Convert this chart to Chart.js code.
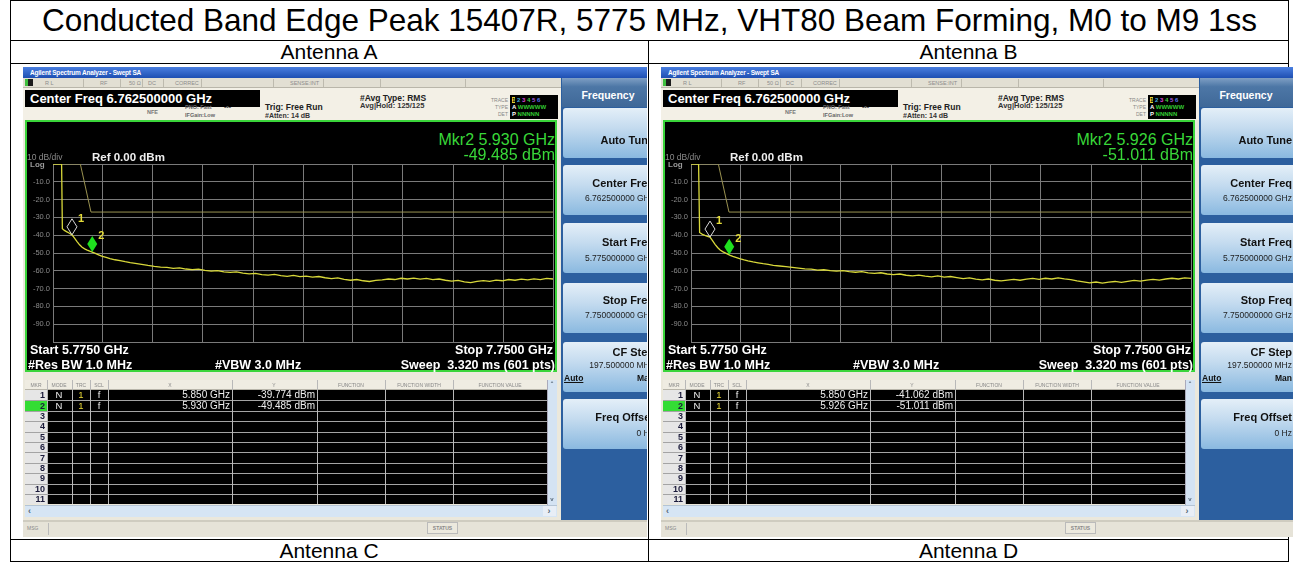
<!DOCTYPE html>
<html>
<head>
<meta charset="utf-8">
<script src="https://cdn.jsdelivr.net/npm/chart.js@4.4.0/dist/chart.umd.min.js"></script>
<style>
  * { box-sizing: border-box; margin: 0; padding: 0; }
  body { width: 1293px; height: 571px; background: #fff; overflow: hidden; position: relative;
         font-family: "Liberation Sans", Arial, sans-serif; }
  .ln { position: absolute; background: #000; }
  .cap { position: absolute; text-align: center; white-space: nowrap; color: #000; }
  .sa { position: absolute; top: 67px; height: 470px; overflow: hidden; background: #ebe8dc; }
  .sa > * { position: absolute; white-space: nowrap; }
</style>
</head>
<body>

<div class="ln" style="left:10px;top:0;width:1279px;height:1px"></div>
<div class="ln" style="left:10px;top:40px;width:1279px;height:1px"></div>
<div class="ln" style="left:10px;top:63px;width:1279px;height:1px"></div>
<div class="ln" style="left:10px;top:539px;width:1279px;height:1px"></div>
<div class="ln" style="left:10px;top:561px;width:1279px;height:1px"></div>
<div class="ln" style="left:10px;top:0;width:1px;height:562px"></div>
<div class="ln" style="left:648px;top:40px;width:1px;height:522px"></div>
<div class="ln" style="left:1288px;top:0;width:1px;height:562px"></div>

<div class="cap" style="left:10px;top:1px;width:1279px;height:39px;line-height:39px;font-size:31.5px">Conducted Band Edge Peak 15407R, 5775 MHz, VHT80 Beam Forming, M0 to M9 1ss</div>
<div class="cap" style="left:10px;top:41px;width:638px;height:22px;line-height:22px;font-size:21px">Antenna A</div>
<div class="cap" style="left:649px;top:41px;width:639px;height:22px;line-height:22px;font-size:21px">Antenna B</div>
<div class="cap" style="left:10px;top:540px;width:638px;height:21px;line-height:21px;font-size:21px">Antenna C</div>
<div class="cap" style="left:649px;top:540px;width:639px;height:21px;line-height:21px;font-size:21px">Antenna D</div>

<div class="sa" id="saA" style="left:23px;width:624px"></div>
<div class="sa" id="saB" style="left:661px;width:632px"></div>

<script>
// sweep: 5.775 GHz to 7.750 GHz, 10 dB/div, ref 0 dBm
const freqGHz = [
  5.775, 5.790, 5.805, 5.809, 5.812, 5.820, 5.830, 5.840, 5.850, 5.860,
  5.870, 5.880, 5.890, 5.900, 5.910, 5.920, 5.930, 5.940, 5.955, 5.970,
  5.985, 6.000, 6.020, 6.040, 6.060, 6.080, 6.100, 6.125, 6.150, 6.175,
  6.200,
  6.225, 6.250, 6.275, 6.300, 6.325, 6.350, 6.375, 6.400, 6.425, 6.450,
  6.475, 6.500, 6.525, 6.550, 6.575, 6.600, 6.625, 6.650, 6.675, 6.700,
  6.725, 6.750, 6.775, 6.800, 6.825, 6.850, 6.875, 6.900, 6.925, 6.950,
  6.975, 7.000, 7.025, 7.050, 7.075, 7.100, 7.125, 7.150, 7.175, 7.200,
  7.225, 7.250, 7.275, 7.300, 7.325, 7.350, 7.375, 7.400, 7.425, 7.450,
  7.475, 7.500, 7.525, 7.550, 7.575, 7.600, 7.625, 7.650, 7.675, 7.700,
  7.725, 7.750
];

const traceA = [
  0, 0, 0, 0, -36.4, -37.3, -38.1, -38.9, -39.8, -41.6,
  -43.6, -45.4, -46.8, -47.7, -48.4, -49.0, -49.5, -50.1, -51.0, -51.9,
  -52.5, -53.1, -53.8, -54.3, -54.9, -55.4, -55.8, -56.4, -57.0, -57.5,
  -57.9,
  -58.1, -58.6, -58.4, -59.0, -59.3, -59.1, -59.8, -60.2, -59.9, -60.6,
  -60.9, -60.6, -61.3, -61.7, -61.4, -62.1, -62.4, -62.0, -62.7, -63.1,
  -62.6, -63.3, -63.0, -63.6, -63.2, -63.9, -64.4, -64.0, -64.8, -65.3,
  -64.9, -65.6, -66.0, -65.4, -65.1, -64.6, -64.9, -64.2, -64.6, -64.1,
  -64.7, -64.3, -65.0, -64.6, -65.3, -65.8, -65.4, -66.2, -66.6, -66.0,
  -65.5, -65.9, -65.2, -65.6, -64.9, -65.3, -64.7, -65.1, -64.5, -64.9,
  -64.3, -64.6
];

const traceB = [
  0, 0, 0, -38.4, -38.8, -39.5, -40.1, -40.6, -41.1, -43.1,
  -45.1, -46.9, -48.3, -49.2, -49.9, -50.6, -51.3, -51.9, -52.6, -53.3,
  -53.9, -54.4, -55.0, -55.5, -56.0, -56.4, -56.9, -57.3, -57.7, -58.1,
  -58.5,
  -58.9, -59.1, -59.6, -59.4, -59.9, -60.2, -59.9, -60.5, -60.8, -60.5,
  -61.2, -61.5, -61.1, -61.8, -62.1, -61.8, -62.5, -62.8, -62.4, -63.0,
  -63.4, -62.9, -63.6, -63.2, -63.8, -64.4, -64.0, -64.7, -65.1, -64.6,
  -65.3, -65.7, -65.2, -64.8, -65.3, -64.7, -64.3, -64.8, -64.2, -64.6,
  -64.0, -64.5, -64.9, -65.6, -66.2, -66.8, -66.3, -66.9, -66.4, -66.0,
  -66.5, -65.9, -65.4, -65.8, -65.2, -64.8, -65.2, -64.6, -64.2, -64.6,
  -64.0, -64.3
];

// limit line (pinned at top of screen above 0 dBm)
const limitFreq = [5.811, 5.883, 5.925, 7.750];
const limitLevel = [0, 0, -27, -27];

const markerFreqA = [5.850, 5.930];
const markerLevelA = [-39.774, -49.485];
const markerFreqB = [5.850, 5.926];
const markerLevelB = [-41.062, -51.011];

// vertical graticule, 10 divisions
const xGridGHz = [5.775, 5.9725, 6.17, 6.3675, 6.565, 6.7625, 6.96, 7.1575, 7.355, 7.5525, 7.75];

const FONT = "'Liberation Sans'";

function tx(x, y, s, font, color, align, extra) {
  const w = 300;
  const l = align === 'r' ? x - w : align === 'c' ? x - w / 2 : x;
  const ta = align === 'r' ? 'right' : align === 'c' ? 'center' : 'left';
  return `<div style="left:${l}px;top:${y - 10}px;width:${w}px;height:20px;font:${font};line-height:20px;text-align:${ta};color:${color};${extra || ''}">${s}</div>`;
}

function bx(x, y, w, h, css) {
  return `<div style="left:${x}px;top:${y}px;width:${w}px;height:${h}px;${css}"></div>`;
}

function screenHTML(id, mf, ml) {
  let h = '';
  // window title
  h += bx(0, 0, 640, 11, 'background:linear-gradient(#4a7fe0,#1e4fb2)');
  h += tx(7, 5.5, 'Agilent Spectrum Analyzer - Swept SA', `bold 6.5px ${FONT}`, '#fff', 'l', 'letter-spacing:-0.2px');

  // status strip
  h += bx(0, 11, 538, 10, 'background:#e2dfd3;border-bottom:1px solid #b9b6aa');
  h += bx(2, 12, 8, 7, 'background:#1c1c1c;border-left:3px solid #3fbf3f');
  [[22, 'R L'], [77, 'RF'], [106, '50 &#937;'], [125, 'DC'], [152, 'CORREC'], [267, 'SENSE:INT']]
    .forEach(([x, s]) => h += tx(x, 16, s, `5.5px ${FONT}`, '#8d8d8d', 'l'));
  [60, 97, 119, 140, 178, 250, 300, 357, 442].forEach(x => h += bx(x, 12, 1, 8, 'background:#bdbaae'));

  // settings area
  h += bx(0, 21, 538, 32, 'background:#f3f0e6');
  h += bx(2, 23, 235, 17, 'background:#000');
  h += tx(7, 31.5, 'Center Freq 6.762500000 GHz', `bold 13px ${FONT}`, '#fff', 'l');
  h += tx(124, 45, 'NFE', `bold 5.5px ${FONT}`, '#777', 'l');
  h += tx(162, 40, 'PNO: Fast', `bold 5.5px ${FONT}`, '#666', 'l');
  h += tx(162, 48, 'IFGain:Low', `bold 5.5px ${FONT}`, '#666', 'l');
  h += tx(201, 40, '-&#8226;-', `bold 7px ${FONT}`, '#555', 'l');
  h += tx(242, 40, 'Trig: Free Run', `bold 8.5px ${FONT}`, '#222', 'l');
  h += tx(242, 49, '#Atten: 14 dB', `bold 7px ${FONT}`, '#333', 'l');
  h += tx(337, 31, '#Avg Type: RMS', `bold 8.5px ${FONT}`, '#222', 'l');
  h += tx(337, 39, 'Avg|Hold: 125/125', `bold 7.5px ${FONT}`, '#333', 'l');
  h += tx(485, 33, 'TRACE', `5px ${FONT}`, '#888', 'r');
  h += tx(485, 40, 'TYPE', `5px ${FONT}`, '#888', 'r');
  h += tx(485, 47, 'DET', `5px ${FONT}`, '#888', 'r');
  h += bx(487, 28, 48, 24, 'background:#000');
  h += tx(489, 33, '<span style="background:#e0d030;color:#000">1</span> <span style="color:#4ad">2</span> <span style="color:#d4d">3</span> <span style="color:#4c4">4</span> <span style="color:#a5d">5</span> <span style="color:#57e">6</span>', `bold 6px ${FONT}`, '#fff', 'l');
  h += tx(489, 40, 'A <span style="color:#3c3">WWWWW</span>', `bold 6px ${FONT}`, '#fff', 'l');
  h += tx(489, 47, 'P <span style="color:#3c3">NNNNN</span>', `bold 6px ${FONT}`, '#fff', 'l');

  // trace window
  h += bx(2, 53, 532, 252, 'background:#000;border:2px solid #3ad43a');
  h += `<canvas id="${id}" width="528" height="194" style="left:4px;top:89px"></canvas>`;
  h += tx(532, 73, `Mkr2 ${mf[1].toFixed(3)} GHz`, `16px ${FONT}`, '#39d839', 'r');
  h += tx(532, 88, `${ml[1].toFixed(3)} dBm`, `16px ${FONT}`, '#39d839', 'r');
  h += tx(4, 90, '10 dB/div', `8.5px ${FONT}`, '#8a8a8a', 'l');
  h += tx(7, 98, 'Log', `bold 8px ${FONT}`, '#9a9a9a', 'l');
  h += tx(69, 90, 'Ref 0.00 dBm', `bold 11.5px ${FONT}`, '#eee', 'l');
  h += tx(7, 283, 'Start 5.7750 GHz', `bold 12.5px ${FONT}`, '#fff', 'l');
  h += tx(5, 298, '#Res BW 1.0 MHz', `bold 12.5px ${FONT}`, '#fff', 'l');
  h += tx(192, 298, '#VBW 3.0 MHz', `bold 12.5px ${FONT}`, '#fff', 'l');
  h += tx(530, 283, 'Stop 7.7500 GHz', `bold 12.5px ${FONT}`, '#fff', 'r');
  h += tx(532, 298, 'Sweep&nbsp; 3.320 ms (601 pts)', `bold 12.5px ${FONT}`, '#fff', 'r');

  // marker table
  const rowH = 10.4, top = 323;
  h += bx(2, 313, 522, 10, 'background:#efece2;border-bottom:1px solid #b8b5aa');
  [[13, 'MKR'], [36, 'MODE'], [58, 'TRC'], [76, 'SCL'], [147, 'X'], [251, 'Y'],
   [328, 'FUNCTION'], [396, 'FUNCTION WIDTH'], [477, 'FUNCTION VALUE']]
    .forEach(([x, s]) => h += tx(x, 318, s, `5px ${FONT}`, '#888', 'c'));
  h += bx(2, top, 22, rowH * 11, 'background:#e6e6e6');
  h += bx(24, top, 500, rowH * 11, 'background:#000');
  h += bx(2, top + rowH, 22, rowH, 'background:#34dc34');
  for (let i = 1; i < 11; i++) h += bx(2, top + i * rowH, 522, 1, 'background:#a4a4a4');
  [24, 49, 67, 85, 209, 294, 362, 430].forEach(x => h += bx(x, 313, 1, 10 + rowH * 11, 'background:#b8b8b8'));
  for (let i = 0; i < 11; i++) {
    h += tx(22, top + i * rowH + rowH / 2, String(i + 1), `bold 9px ${FONT}`, '#1a1a3a', 'r');
  }
  mf.forEach((f, i) => {
    const y = top + i * rowH + rowH / 2;
    h += tx(36, y, 'N', `9.5px ${FONT}`, '#eee', 'c');
    h += tx(58, y, '1', `9.5px ${FONT}`, '#e8d838', 'c');
    h += tx(76, y, 'f', `9.5px ${FONT}`, '#eee', 'c');
    h += tx(207, y, `${f.toFixed(3)} GHz`, `10px ${FONT}`, '#eee', 'r');
    h += tx(292, y, `${ml[i].toFixed(3)} dBm`, `10px ${FONT}`, '#eee', 'r');
  });
  h += bx(524, 313, 10, 125, 'background:#d4e3f3;border-left:1px solid #aab');
  h += tx(529, 318, '&#710;', `bold 7px ${FONT}`, '#567', 'c');
  h += tx(529, 432, 'v', `bold 6px ${FONT}`, '#567', 'c');
  h += bx(2, 438, 532, 12, 'background:#d6e5f4;border-top:1px solid #b4c4d4');
  h += tx(5, 444, '&#8249;', `bold 9px ${FONT}`, '#567', 'l');
  h += bx(520, 439, 13, 10, 'background:#e8eef6');
  h += tx(526, 444, '&#8250;', `bold 9px ${FONT}`, '#567', 'c');

  // message strip
  h += bx(0, 453, 640, 17, 'background:#e6e3d8;border-top:2px solid #cfccc0');
  h += tx(4, 461, 'MSG', `5px ${FONT}`, '#888', 'l');
  h += bx(25, 456, 1, 12, 'background:#bbb');
  h += bx(404, 455, 31, 12, 'border:1px solid #bbb;background:#ece9de');
  h += tx(419.5, 461, 'STATUS', `bold 5px ${FONT}`, '#888', 'c');

  // soft key panel
  h += bx(538, 11, 102, 442, 'background:#2c5f9f');
  h += bx(539, 11, 101, 29, 'background:linear-gradient(#7f9fc4,#4d77a6 30%,#3f6898)');
  h += tx(585, 28, 'Frequency', `bold 10.5px ${FONT}`, '#fff', 'c');
  [41, 98, 156, 216, 275, 332].forEach(y =>
    h += bx(540, y, 100, 50, 'background:linear-gradient(#e4eff8,#c4dbef 40%,#8ab9e0);border-radius:3px 0 0 3px'));
  const key = `bold 11px ${FONT}`, val = `8.5px ${FONT}`;
  h += tx(631, 73, 'Auto Tune', key, '#111', 'r');
  h += tx(631, 116, 'Center Freq', key, '#111', 'r');
  h += tx(631, 131, '6.762500000 GHz', val, '#222', 'r');
  h += tx(631, 175, 'Start Freq', key, '#111', 'r');
  h += tx(631, 191, '5.775000000 GHz', val, '#222', 'r');
  h += tx(631, 233, 'Stop Freq', key, '#111', 'r');
  h += tx(631, 248, '7.750000000 GHz', val, '#222', 'r');
  h += tx(631, 285, 'CF Step', key, '#111', 'r');
  h += tx(631, 298, '197.500000 MHz', val, '#222', 'r');
  h += tx(541, 311, 'Auto', `bold 8.5px ${FONT}`, '#111', 'l', 'text-decoration:underline');
  h += tx(631, 311, 'Man', `bold 8.5px ${FONT}`, '#111', 'r');
  h += tx(631, 350, 'Freq Offset', key, '#111', 'r');
  h += tx(631, 366, '0 Hz', val, '#222', 'r');
  return h;
}

function markerPlugin(mf, ml) {
  return {
    id: 'markers',
    afterDatasetsDraw(chart) {
      const ctx = chart.ctx, xs = chart.scales.x, ys = chart.scales.y;
      mf.forEach((f, i) => {
        const px = xs.getPixelForValue(f), py = ys.getPixelForValue(ml[i]);
        ctx.save();
        ctx.beginPath();
        ctx.moveTo(px, py);
        ctx.lineTo(px + 5, py - 8);
        ctx.lineTo(px, py - 16);
        ctx.lineTo(px - 5, py - 8);
        ctx.closePath();
        if (i === mf.length - 1) {
          ctx.fillStyle = '#1fe01f';
          ctx.fill();
        } else {
          ctx.strokeStyle = '#d8d8d8';
          ctx.lineWidth = 1;
          ctx.stroke();
        }
        ctx.fillStyle = '#e4dc3a';
        ctx.font = "bold 11px 'Liberation Sans'";
        ctx.fillText(String(i + 1), px + 6, py - 13);
        ctx.restore();
      });
    }
  };
}

function makeChart(canvasId, trace, mf, ml) {
  const pts = freqGHz.map((f, i) => ({ x: f, y: trace[i] }));
  const lim = limitFreq.map((f, i) => ({ x: f, y: limitLevel[i] }));
  return new Chart(document.getElementById(canvasId).getContext('2d'), {
    type: 'line',
    data: {
      datasets: [
        { data: lim, borderColor: '#9a9250', borderWidth: 1, pointRadius: 0, tension: 0 },
        { data: pts, borderColor: '#d8d83a', borderWidth: 1.3, pointRadius: 0, tension: 0 }
      ]
    },
    options: {
      responsive: false,
      animation: false,
      devicePixelRatio: 1,
      layout: { padding: { left: 0, right: 2, top: 8, bottom: 8 } },
      plugins: { legend: { display: false }, tooltip: { enabled: false } },
      scales: {
        x: {
          type: 'linear', min: 5.775, max: 7.75,
          afterBuildTicks: s => { s.ticks = xGridGHz.map(v => ({ value: v })); },
          afterFit: s => { s.height = 0; },
          ticks: { display: false },
          grid: { color: '#7a7a7a', drawTicks: false },
          border: { display: false }
        },
        y: {
          min: -100, max: 0,
          afterFit: s => { s.width = 26; },
          ticks: {
            stepSize: 10, color: '#8a8a8a', padding: 3,
            font: { size: 7.5, family: 'Liberation Sans' },
            callback: v => (v === 0 || v === -100) ? '' : v.toFixed(1)
          },
          grid: { color: '#7a7a7a', drawTicks: false },
          border: { display: false }
        }
      }
    },
    plugins: [markerPlugin(mf, ml)]
  });
}

document.getElementById('saA').innerHTML = screenHTML('cvA', markerFreqA, markerLevelA);
document.getElementById('saB').innerHTML = screenHTML('cvB', markerFreqB, markerLevelB);
makeChart('cvA', traceA, markerFreqA, markerLevelA);
makeChart('cvB', traceB, markerFreqB, markerLevelB);
</script>
</body>
</html>
